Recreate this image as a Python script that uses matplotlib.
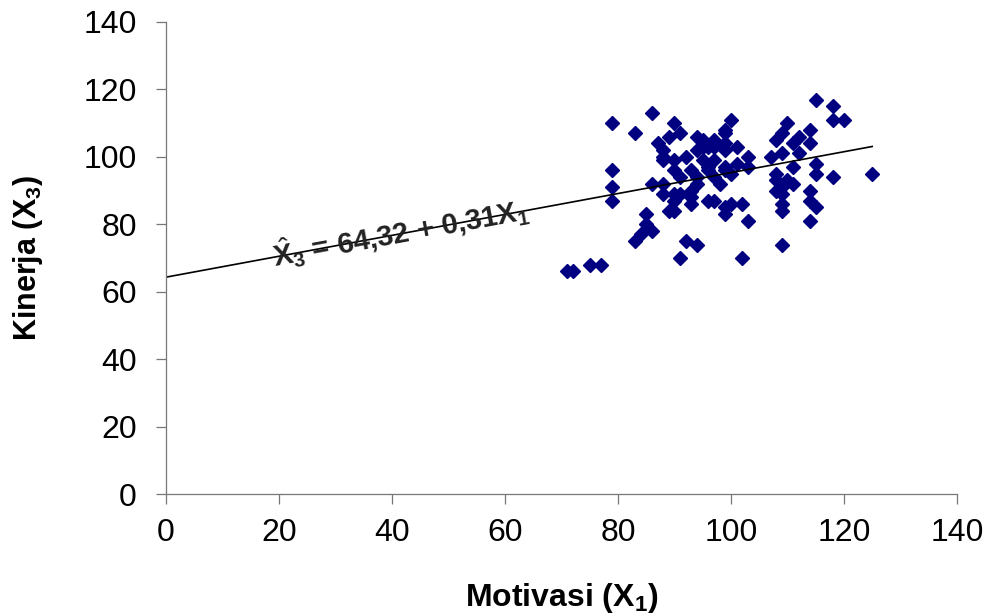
import matplotlib

matplotlib.use("Agg")
import matplotlib.pyplot as plt

# Motivasi (X1) vs Kinerja (X3)
motivasi = [
    71, 72, 75, 77,
    79, 79, 79, 79, 83, 86,
    83, 84, 86, 85, 85,
    86, 88, 87, 89, 88, 88, 88,
    90, 91, 94, 95, 97, 95, 97, 99, 99, 101, 103, 100, 99, 99,
    90, 92, 94, 96, 95, 97, 103, 99, 101, 90, 93, 96, 99, 100,
    91, 94, 97, 98, 96,
    88, 90, 93, 94, 91, 93,
    90, 89, 90, 93, 96, 97,
    99, 100, 102, 99, 103,
    92, 94, 91, 102,
    115, 118, 118, 120, 110, 114, 109, 108, 112, 111, 114,
    107, 109, 112, 115, 111, 115, 118, 125, 108, 108, 110, 111,
    109, 108, 109, 114, 109, 109, 114, 115, 114, 109,
]
kinerja = [
    66, 66, 68, 68,
    110, 96, 91, 87, 107, 113,
    75, 77, 78, 80, 83,
    92, 92, 104, 106, 102, 100, 99,
    110, 107, 106, 105, 105, 103, 103, 104, 102, 103, 100, 111, 108, 107,
    99, 100, 102, 103, 99, 99, 97, 97, 98, 96, 96, 97, 96, 95,
    94, 94, 94, 92, 96,
    89, 89, 90, 92, 89, 88,
    87, 84, 84, 86, 87, 87,
    85, 86, 86, 83, 81,
    75, 74, 70, 70,
    117, 115, 111, 111, 110, 108, 107, 105, 106, 104, 104,
    100, 101, 101, 98, 97, 95, 94, 95, 95, 93, 93, 92,
    91, 90, 89, 90, 86, 84, 87, 85, 81, 74,
]

intercept = 64.32
slope = 0.31
line_x = [0, 125]

plt.rcParams["font.family"] = ["Liberation Sans", "DejaVu Sans"]
plt.rcParams["mathtext.fontset"] = "custom"
plt.rcParams["mathtext.rm"] = "Liberation Sans"
plt.rcParams["mathtext.bf"] = "Liberation Sans:bold"
plt.rcParams["mathtext.it"] = "Liberation Sans:italic"

fig = plt.figure(figsize=(9.93, 6.14), dpi=100)
ax = fig.add_axes([0.1672, 0.1954, 0.7965, 0.7688])

ax.plot(motivasi, kinerja, ls="", marker="D", ms=7.3, color="#000080", mec="#000080")
ax.plot(line_x, [intercept + slope * v for v in line_x], color="black", lw=1.2)

ax.set_xlim(0, 140)
ax.set_ylim(0, 140)
ax.set_xticks(range(0, 141, 20))
ax.set_yticks(range(0, 141, 20))
ax.tick_params(direction="out", length=7, width=0.9, color="#777777",
               labelsize=23, pad=10)
ax.tick_params(axis="y", pad=14)

for side in ("top", "right"):
    ax.spines[side].set_visible(False)
for side in ("left", "bottom"):
    ax.spines[side].set_color("#777777")
    ax.spines[side].set_linewidth(0.9)

ax.set_xlabel(r"Motivasi (X$_\mathbf{1}$)", fontsize=23, fontweight="bold", labelpad=24)
ax.set_ylabel(r"Kinerja (X$_\mathbf{3}$)", fontsize=22, fontweight="bold", labelpad=28)

ax.text(41.5, 77.6, r"$\hat{\mathbf{X}}_\mathbf{3}$ = 64,32 + 0,31X$_\mathbf{1}$",
        fontsize=21, fontweight="bold", color="#222222",
        rotation=10.5, rotation_mode="anchor", ha="center", va="center")

fig.savefig("out.png", dpi=100)
